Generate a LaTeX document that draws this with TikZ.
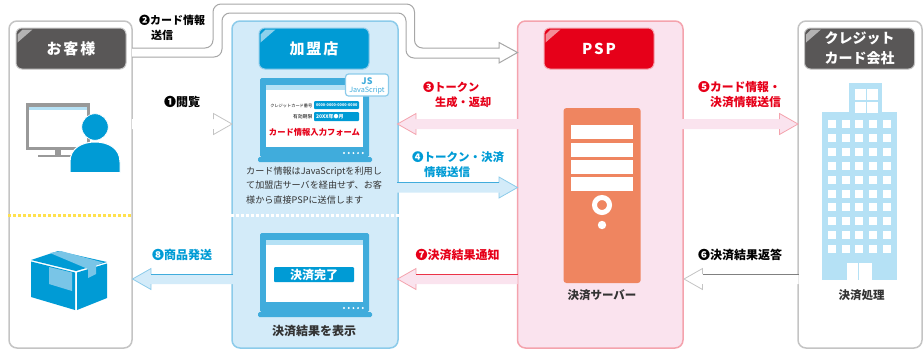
\documentclass[tikz,border=0pt]{standalone}
\usepackage{fontspec}
\setmainfont{Noto Sans CJK JP}
\newfontfamily\spacedfont[LetterSpace=12]{Noto Sans CJK JP}
\usetikzlibrary{calc}

\definecolor{cblue}{HTML}{009BD5}
\definecolor{cmid}{HTML}{40ACDC}
\definecolor{cpale}{HTML}{D3EBF9}
\definecolor{cedge}{HTML}{8CCBEA}
\definecolor{csky}{HTML}{B5E1F5}
\definecolor{cred}{HTML}{E60019}
\definecolor{cpink}{HTML}{FAE3EE}
\definecolor{credge}{HTML}{F4A3AD}
\definecolor{cgrey}{HTML}{595757}
\definecolor{cline}{HTML}{C4C4C4}
\definecolor{cink}{HTML}{333333}
\definecolor{corange}{HTML}{EF8560}
\definecolor{cyell}{HTML}{FFE14D}

\tikzset{
	panel/.style={draw=#1,line width=1.5pt,rounded corners=8pt,inner sep=0pt},
	titlebox/.style={draw=#1,line width=1pt,rounded corners=6pt,inner sep=0pt,
		minimum width=110,minimum height=41,text=white,align=center},
	lbl/.style={inner sep=0pt,anchor=west,align=left,font=\bfseries\fontsize{#1}{15}\selectfont},
	capt/.style={inner sep=0pt,text=cink,font=\bfseries\fontsize{#1}{14.5}\selectfont},
	field/.style={fill=cblue,rounded corners=1pt,inner ysep=0pt,inner xsep=2pt,text=white,text width=41pt,align=left}
}

\newcommand{\flowarrow}[5]{
	\coordinate (hb) at ($(#5)!18.5pt!(#4)$);
	\fill[#1] ($(#4)+(0,-5)$) -- ($(hb)+(0,-5)$) -- ($(hb)+(0,-10.5)$) -- (#5)
		-- ($(hb)+(0,10.5)$) -- ($(hb)+(0,5)$) -- ($(#4)+(0,5)$) -- cycle;
	\draw[#2,line width=.8pt] ($(hb)+(0,-5)$) -- ($(hb)+(0,-10.5)$) -- (#5)
		-- ($(hb)+(0,10.5)$) -- ($(hb)+(0,5)$);
	\draw[draw=#3,line width=1pt] ($(#4)+(0,-5)$) -- ($(hb)+(0,-5)$);
}
\newcommand{\glare}[1]{
	\fill[white,opacity=.55] ($(#1.north west)+(2,15)$) -- ($(#1.north west)+(2,7)$)
		-- ($(#1.north west)+(7,2)$) -- ($(#1.north west)+(17,2)$) -- cycle;
}
\newcommand{\laptop}[3]{
	\fill[cmid,rounded corners=1.5pt] (260,#1) rectangle (369,#2);
	\fill[cmid,rounded corners=1.5pt] (258,#2) rectangle (372,#2+5);
	\fill[white] (266,#1+7) rectangle (363,#2-10);
	\fill[#3] (266,#1+7) rectangle (363,#1+12);
	\foreach \dx in {344,348.7,353.4,358.1,362.8}
		\fill[white] (\dx,#2-4) circle (1.1);
}

\begin{document}
\begin{tikzpicture}[x=1pt,y=-1pt]
	\useasboundingbox (0,0) rectangle (923,349);

	\node[panel=cline,fill=white,minimum width=123,minimum height=327] (pc) at (70.5,184.5) {};
	\node[panel=cedge,fill=cpale,minimum width=166,minimum height=327] (pm) at (315,184.5) {};
	\node[panel=credge,fill=cpink,minimum width=165.5,minimum height=327] (pp) at (600.25,184.5) {};
	\node[panel=cline,fill=white,minimum width=124,minimum height=327] (pk) at (860,184.5) {};

	\draw[cyell,line width=3pt,dash pattern=on 3pt off 2pt] (pc.west |- 0,215) -- (pc.east |- 0,215);
	\draw[white,line width=3pt,dash pattern=on 3pt off 2pt] (pm.west |- 0,215) -- (pm.east |- 0,215);

	\node[titlebox=cline,fill=cgrey,font=\spacedfont\bfseries\fontsize{15}{18}\selectfont] (tc) at (71,48.5) {お客様};
	\node[titlebox=cedge,fill=cblue,font=\spacedfont\bfseries\fontsize{15}{18}\selectfont] (tm) at (314,48.5) {加盟店};
	\node[titlebox=credge,fill=cred,font=\spacedfont\bfseries\fontsize{15}{18}\selectfont] (tp) at (599,48.5) {PSP};
	\node[titlebox=cline,fill=cgrey,font=\bfseries\fontsize{14}{20}\selectfont] (tk) at (859.5,48.5) {クレジット\\カード会社};
	\glare{tc}
	\glare{tm}
	\glare{tp}
	\glare{tk}

	\coordinate (a1s) at (132,124);
	\coordinate (a1e) at (232,124);
	\coordinate (a3s) at (519,124);
	\coordinate (a3e) at (397.5,124);
	\coordinate (a4s) at (397,187.5);
	\coordinate (a4e) at (517.5,187.5);
	\coordinate (a5s) at (682,124);
	\coordinate (a5e) at (798,124);
	\coordinate (a6s) at (798.5,279);
	\coordinate (a6e) at (684,279);
	\coordinate (a7s) at (517.5,279);
	\coordinate (a7e) at (397.5,279);
	\coordinate (a8s) at (233,279);
	\coordinate (a8e) at (132.5,279);

	\flowarrow{white}{cline}{none}{a1s}{a1e}
	\flowarrow{cpink}{credge}{none}{a3s}{a3e}
	\flowarrow{cpale}{cedge}{cmid}{a4s}{a4e}
	\flowarrow{cpink}{credge}{none}{a5s}{a5e}
	\flowarrow{white}{cline}{gray}{a6s}{a6e}
	\flowarrow{cpink}{credge}{cred!80}{a7s}{a7e}
	\flowarrow{cpale}{cedge}{cmid}{a8s}{a8e}

	\filldraw[draw=cline!85!black,fill=white,line width=1pt,rounded corners=8pt]
		(132,48) -- (213,48) -- (213,4) -- (414.5,4) -- (414.5,48) [sharp corners] -- (499,48) -- (499,42.5)
		-- (517.5,52.5) -- (499,63) -- (499,58) [rounded corners=8pt] -- (406,58) -- (406,13) -- (222,13) -- (222,57) -- (132,57);

	\node[lbl=12] (l1) at (164,102) {❶閲覧};
	\node[lbl=11] (l2) at (139,27.5) {❷カード情報\\\hspace*{12pt}送信};
	\node[lbl=11.2,text=cred] (l3) at (423,94.5) {❸トークン\\\hspace*{12pt}生成・返却};
	\node[lbl=11.5,text=cblue] (l4) at (412,164.5) {❹トークン・決済\\\hspace*{12pt}情報送信};
	\node[lbl=11.8,text=cred] (l5) at (698,94.5) {❺カード情報・\\\hspace*{12pt}決済情報送信};
	\node[lbl=12] (l6) at (698,255) {❻決済結果返答};
	\node[lbl=12,text=cred] (l7) at (415.5,255) {❼決済結果通知};
	\node[lbl=12,text=cblue] (l8) at (152,255) {❽商品発送};

	\fill[gray!80] (26,103) rectangle (90,150);
	\fill[white] (29,107) rectangle (87,147);
	\fill[csky] (29,107) rectangle (87,110);
	\fill[gray!80] (55,150) rectangle (61,155);
	\fill[gray!80] (38,155) rectangle (75,157);
	\filldraw[draw=white,fill=cblue,line width=1pt] (70,172.5) -- (70,162) .. controls (70,148) and (82,142) .. (95,142)
		.. controls (108,142) and (120,148) .. (120,162) -- (120,172.5) -- cycle;
	\filldraw[draw=white,fill=cblue,line width=.6pt] (95,127) circle (13.2);

	\fill[cblue] (31,260) -- (58,251) -- (107,262) -- (76,271) -- cycle;
	\fill[cblue] (31,261.5) -- (75,272.5) -- (75,310) -- (31,297) -- cycle;
	\fill[cblue] (77,272.5) -- (107,263.5) -- (107,298) -- (77,310) -- cycle;
	\fill[cmid!70] (50,253) -- (61,251) -- (103,262.5) -- (96,265.5) -- (96,274) -- (88,278) -- (88,269) -- cycle;
	\fill[cmid!70] (49,267) -- (72,272.5) -- (72,291) -- (49,284) -- cycle;

	\laptop{78}{157}{csky}
	\node[draw=cedge,fill=white,line width=1.2pt,rounded corners=3pt,minimum width=43,minimum height=22,inner sep=0pt] (js) at (367,85) {};
	\node[inner sep=0pt,text=cmid,font=\bfseries\fontsize{9}{9}\selectfont] (jsa) at (367,81) {JS};
	\node[inner sep=0pt,text=cmid,font=\fontsize{7.2}{8}\selectfont] (jsb) at (367,90.5) {JavaScript};
	\node[inner sep=0pt,anchor=east,font=\fontsize{4.2}{5}\selectfont] (f1) at (312.5,105.5) {クレジットカード番号};
	\node[field,minimum height=8,font=\bfseries\fontsize{3.8}{5}\selectfont] (f1v) at (336.5,105) {\mbox{0000-0000-0000-0000}};
	\node[inner sep=0pt,anchor=east,font=\fontsize{4.8}{5}\selectfont] (f2) at (312.5,116.5) {有効期限};
	\node[field,minimum height=9,font=\bfseries\fontsize{5}{5}\selectfont] (f2v) at (336.5,116.5) {20XX年●月};
	\node[inner sep=0pt,text=cred,font=\bfseries\fontsize{8.3}{9}\selectfont] (f3) at (314.5,132.5) {カード情報入力フォーム};

	\node[inner sep=0pt,anchor=north west,align=left,text=cink,font=\fontsize{9.1}{14.5}\selectfont] (memo) at (246,166.5)
		{カード情報はJavaScriptを利用し\\て加盟店サーバを経由せず、お客\\様から直接PSPに送信します};

	\laptop{233}{312}{csky}
	\node[fill=cblue,rounded corners=1pt,inner sep=0pt,text=white,minimum width=80,minimum height=15,font=\bfseries\fontsize{12}{12}\selectfont] (done) at (314,274.5) {決済完了};
	\node[capt=12] (c1) at (314,331) {決済結果を表示};

	\fill[corange,rounded corners=3pt] (563.5,108) rectangle (640.7,283);
	\foreach \sy in {125,142.5,160,176.5}
		\fill[white] (571,\sy) rectangle (632.5,\sy+14);
	\draw[white,line width=5pt] (602,205) circle (7.5);
	\fill[white] (602,225) circle (4.2);
	\node[capt=11.5] (c2) at (602,295) {決済サーバー};

	\fill[csky] (849,83) rectangle (882,112);
	\fill[csky] (822,112) rectangle (897,280);
	\foreach \wx in {855,867} \foreach \wy in {89,102}
		\fill[white] (\wx,\wy) rectangle (\wx+10.5,\wy+10.5);
	\foreach \wx in {832,846,859,873,887} \foreach \wk in {0,...,9}
		\fill[white] (\wx-4,124+13.9*\wk-4) rectangle (\wx+4,124+13.9*\wk+4);
	\fill[white] (846.5,263) rectangle (871.6,280);
	\draw[csky,line width=1pt] (858.7,263) -- (858.7,280);
	\node[capt=11.5] (c3) at (861.5,295) {決済処理};
\end{tikzpicture}
\end{document}
